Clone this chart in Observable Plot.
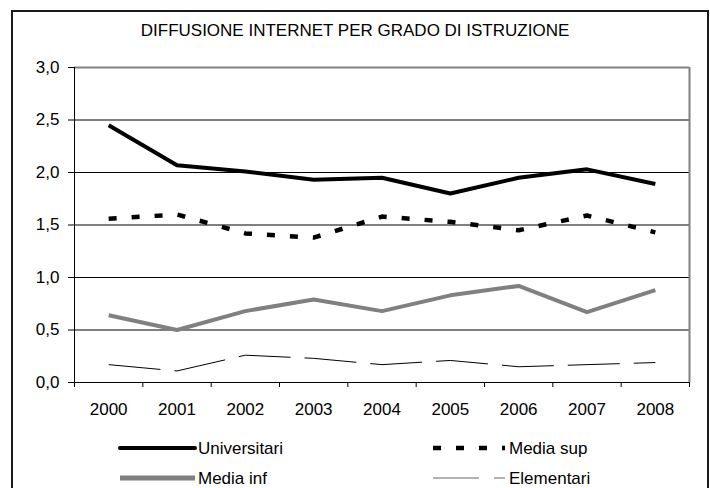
<!DOCTYPE html>
<html>
<head>
<meta charset="utf-8">
<script src="https://cdn.jsdelivr.net/npm/d3@7"></script>
<script src="https://cdn.jsdelivr.net/npm/@observablehq/plot@0.6"></script>
<style>
  html, body { margin: 0; padding: 0; background: #fff; }
  #wrap { position: relative; width: 710px; height: 488px; overflow: hidden; background: #fff; font-family: "Liberation Sans", Arial, sans-serif; }
  #frame { position: absolute; left: 11px; top: 10px; width: 698px; height: 520px; border: 2px solid #1a1a1a; box-sizing: border-box; }
  #title { position: absolute; left: 0; width: 710px; top: 21px; text-align: center; font-size: 17px; line-height: 20px; color: #000; padding-left: 0px; }
  #chart { position: absolute; left: 0; top: 0; }
  #legend { position: absolute; left: 0; top: 0; }
</style>
</head>
<body>
<div id="wrap">
  <div id="frame"></div>
  <div id="title">DIFFUSIONE INTERNET PER GRADO DI ISTRUZIONE</div>
  <div id="chart"></div>
  <svg id="legend" width="710" height="488"></svg>
</div>
<script>
const years = [2000, 2001, 2002, 2003, 2004, 2005, 2006, 2007, 2008];
const universitari = [2.45, 2.07, 2.01, 1.93, 1.95, 1.80, 1.95, 2.03, 1.89];
const mediaSup     = [1.56, 1.60, 1.42, 1.38, 1.58, 1.53, 1.45, 1.59, 1.43];
const mediaInf     = [0.64, 0.50, 0.68, 0.79, 0.68, 0.83, 0.92, 0.67, 0.88];
const elementari   = [0.17, 0.11, 0.26, 0.23, 0.17, 0.21, 0.15, 0.17, 0.19];
const yTicks = [0, 0.5, 1.0, 1.5, 2.0, 2.5, 3.0];
const seriesNames = ["Universitari", "Media sup", "Media inf", "Elementari"];

const styles = {
  "Universitari": {stroke: "#000", strokeWidth: 4, strokeDasharray: null},
  "Media sup":    {stroke: "#000", strokeWidth: 4.5, strokeDasharray: "8,15"},
  "Media inf":    {stroke: "#808080", strokeWidth: 4, strokeDasharray: null},
  "Elementari":   {stroke: "#000", strokeWidth: 1, strokeDasharray: "52,14"}
};
const valuesBySeries = {
  "Universitari": universitari,
  "Media sup": mediaSup,
  "Media inf": mediaInf,
  "Elementari": elementari
};
const rows = name => years.map((y, i) => ({year: y, value: valuesBySeries[name][i]}));
const boundaries = [years[0] - 0.5, ...years.map(y => y + 0.5)];

const lineMarks = seriesNames.map(name => Plot.line(rows(name), {
  x: "year", y: "value",
  stroke: styles[name].stroke,
  strokeWidth: styles[name].strokeWidth,
  strokeDasharray: styles[name].strokeDasharray,
  strokeLinejoin: "round",
  strokeLinecap: "butt"
}));

const chart = Plot.plot({
  width: 710,
  height: 420,
  marginLeft: 74,
  marginRight: 21,
  marginTop: 67,
  marginBottom: 38,
  style: {fontFamily: "'Liberation Sans', Arial, sans-serif", fontSize: "17px", color: "#000", background: "transparent", overflow: "visible"},
  x: {type: "linear", domain: [boundaries[0], boundaries[boundaries.length - 1]]},
  y: {domain: [0, 3]},
  marks: [
    Plot.ruleY(yTicks.filter(d => d > 0 && d < 3), {stroke: "#000", strokeWidth: 1}),
    Plot.ruleY([yTicks[yTicks.length - 1]], {stroke: "#808080", strokeWidth: 2}),
    Plot.ruleX([boundaries[boundaries.length - 1]], {stroke: "#808080", strokeWidth: 2}),
    Plot.ruleX([boundaries[0]], {stroke: "#000", strokeWidth: 1}),
    Plot.ruleY([0], {stroke: "#000", strokeWidth: 1}),
    Plot.axisY({ticks: yTicks, tickSize: 6, tickPadding: 9, tickFormat: d => d.toFixed(1).replace(".", ","), label: null, stroke: "#000", strokeOpacity: 1, fill: "#000"}),
    Plot.axisX({ticks: boundaries, tickSize: 5, tickFormat: () => "", label: null, stroke: "#000", strokeOpacity: 1}),
    Plot.axisX({ticks: years, tickSize: 0, tickPadding: 20, tickFormat: d => String(d), label: null, fill: "#000"}),
    ...lineMarks
  ]
});
document.getElementById("chart").appendChild(chart);

// Legend
const legend = d3.select("#legend");
const legendItems = [
  {name: "Universitari", x: 120, y: 448},
  {name: "Media sup", x: 433, y: 448},
  {name: "Media inf", x: 120, y: 478},
  {name: "Elementari", x: 433, y: 478}
];
legendItems.forEach(it => {
  const s = styles[it.name];
  const g = legend.append("g");
  if (it.name === "Elementari") {
    g.append("line").attr("x1", it.x).attr("x2", it.x + 46).attr("y1", it.y).attr("y2", it.y)
      .attr("stroke", "#666").attr("stroke-width", 1);
    g.append("line").attr("x1", it.x + 61).attr("x2", it.x + 72).attr("y1", it.y).attr("y2", it.y)
      .attr("stroke", "#666").attr("stroke-width", 1);
  } else {
    g.append("line").attr("x1", it.x).attr("x2", it.x + (it.name === "Media sup" ? 72 : 75)).attr("y1", it.y).attr("y2", it.y)
      .attr("stroke", s.stroke).attr("stroke-width", it.name === "Media inf" ? 5 : s.strokeWidth)
      .attr("stroke-dasharray", s.strokeDasharray)
      .attr("stroke-linecap", it.name === "Universitari" ? "round" : "butt");
  }
  g.append("text").attr("x", it.x + (it.name === "Media sup" || it.name === "Elementari" ? 76 : 78)).attr("y", it.y).attr("dy", "0.36em")
    .attr("font-family", "'Liberation Sans', Arial, sans-serif").attr("font-size", 17).attr("fill", "#000")
    .text(it.name);
});
</script>
</body>
</html>
